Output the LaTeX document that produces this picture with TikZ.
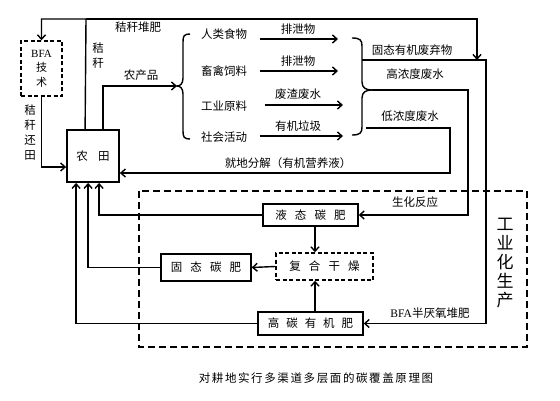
\documentclass[tikz,border=0pt]{standalone}
\usepackage{fontspec}
\setmainfont{Liberation Serif}
\newfontfamily\cjk{Noto Sans CJK SC}
\newfontfamily\cjkwide[LetterSpace=14]{Noto Sans CJK SC}
\usetikzlibrary{arrows.meta}
\begin{document}
\begin{tikzpicture}[x=1pt,y=-1pt,
  font=\cjk\fontsize{11.5}{13}\selectfont,
  line width=1.4pt,
  arr/.style={-{Straight Barb[length=4.5pt,width=8pt,line width=1.4pt]}},
  box/.style={draw,line width=1.4pt,inner sep=0pt},
  dbox/.style={draw,line width=1.4pt,inner sep=0pt,dash pattern=on 4pt off 2.5pt},
  lbl/.style={inner sep=1pt},
  item/.style={inner sep=2pt},
  vtext/.style={align=center,inner sep=0pt,font=\cjk\fontsize{11.5}{15}\selectfont}]
\useasboundingbox (0,0) rectangle (560,401);

% main nodes
\node[box,line width=1.8pt,minimum width=52pt,minimum height=52pt] (nt) at (93,156) {农\hspace{0.9em}田};
\node[dbox,minimum width=41pt,minimum height=55pt,align=center,font=\cjk\fontsize{11}{14.5}\selectfont] (bfa) at (41.5,68.5) {{\rmfamily BFA}\\技\\术};

\node[item] (n1) at (224,34) {人类食物};
\node[item] (n2) at (224,71) {畜禽饲料};
\node[item] (n3) at (224,106) {工业原料};
\node[item] (n4) at (224,137) {社会活动};

\node[box,minimum width=95pt,minimum height=22pt] (liq) at (310.5,215) {液\hspace{0.7em}态\hspace{0.7em}碳\hspace{0.7em}肥};
\node[box,minimum width=90pt,minimum height=27pt] (sol) at (206,267.5) {固\hspace{0.7em}态\hspace{0.7em}碳\hspace{0.7em}肥};
\node[dbox,minimum width=97pt,minimum height=27pt] (cmp) at (324.5,266.5) {复\hspace{0.7em}合\hspace{0.7em}干\hspace{0.7em}燥};
\node[box,minimum width=105pt,minimum height=23pt] (hig) at (310.5,323.5) {高\hspace{0.6em}碳\hspace{0.6em}有\hspace{0.6em}机\hspace{0.6em}肥};

% industrial frame
\draw[dash pattern=on 7pt off 4pt] (139,191) rectangle (527,347);
\node[vtext,font=\cjk\fontsize{17}{19}\selectfont] (gy) at (505,263) {工\\业\\化\\生\\产};

% braces
\coordinate (lb) at (177,86);
\draw (190,34) .. controls (184,34) and (183,36) .. (183,42) -- (183,78)
  .. controls (183,84) and (180,86) .. (lb)
  .. controls (180,86) and (183,88) .. (183,94) -- (183,131)
  .. controls (183,137) and (184,139) .. (190,139);
\coordinate (rb) at (372,90);
\draw (352,38) .. controls (360,38) and (362,40) .. (362,46) -- (362,82)
  .. controls (362,88) and (366,90) .. (rb)
  .. controls (366,90) and (362,92) .. (362,98) -- (362,127)
  .. controls (362,133) and (360,135) .. (352,135);
\coordinate (rs1) at (362,60);
\coordinate (rs3) at (366,128);

% top loop
\coordinate (tj) at (86,19);
\coordinate (tdown) at (477,60);
\draw[arr] ([xshift=19pt]nt.north west) -- (tj) -| (bfa.north);
\draw[arr] (tj) -| (tdown);
\node[lbl] (lstraw) at (138,27) {秸秆堆肥};
\node[vtext] (lg) at (98,56) {秸\\秆};

% BFA to field
\draw[arr] (bfa.south) |- ([yshift=-11pt]nt.west);
\node[vtext] (lhuan) at (30,133) {秸\\秆\\还\\田};

% products
\draw[arr] ([xshift=37pt]nt.north west) |- (lb);
\node[lbl] (lprod) at (141,75) {农产品};

% item arrows
\coordinate (e1) at (338,39);
\coordinate (e2) at (338,71);
\coordinate (e3) at (343,105);
\coordinate (e4) at (343,136);
\draw[arr] ([xshift=10pt,yshift=-5pt]n1.east) -- (e1);
\draw[arr] ([xshift=10pt]n2.east) -- (e2);
\draw[arr] ([xshift=15pt,yshift=1pt]n3.east) -- (e3);
\draw[arr] ([xshift=10pt,yshift=1pt]n4.east) -- (e4);
\node[lbl] (a1) at (298,29) {排泄物};
\node[lbl] (a2) at (298,61) {排泄物};
\node[lbl] (a3) at (298,94) {废渣废水};
\node[lbl] (a4) at (298,126) {有机垃圾};

% waste streams
\draw[arr] (rs1) -- (486,60) |- (hig.east);
\draw[arr] (rb) -- (468,90) |- (liq.east);
\draw[arr] (rs3) -- (450,128) |- ([yshift=-17pt]nt.east);
\node[lbl] (w1) at (412,50) {固态有机废弃物};
\node[lbl] (w2) at (415,74) {高浓度废水};
\node[lbl] (w3) at (410,116) {低浓度废水};
\node[lbl] (w4) at (288,163) {就地分解（有机营养液）};
\node[lbl] (w5) at (415,202) {生化反应};
\node[lbl] (w6) at (430,313) {{\rmfamily BFA}半厌氧堆肥};

% fertiliser returns
\draw[arr] (liq.west) -| ([xshift=33pt]nt.south west);
\draw[arr] (sol.west) -| ([xshift=22pt]nt.south west);
\draw[arr] (hig.west) -| ([xshift=10pt]nt.south west);
\draw[arr] (cmp.west) -- (sol.east);
\draw[arr] ([xshift=4.5pt]liq.south) -- ([xshift=-9.5pt]cmp.north);
\draw[arr] ([xshift=4.5pt]hig.north) -- ([xshift=-9.5pt]cmp.south);

% caption
\node[lbl,font=\cjkwide\fontsize{11.5}{13}\selectfont] (cap) at (316,378) {对耕地实行多渠道多层面的碳覆盖原理图};
\end{tikzpicture}
\end{document}
